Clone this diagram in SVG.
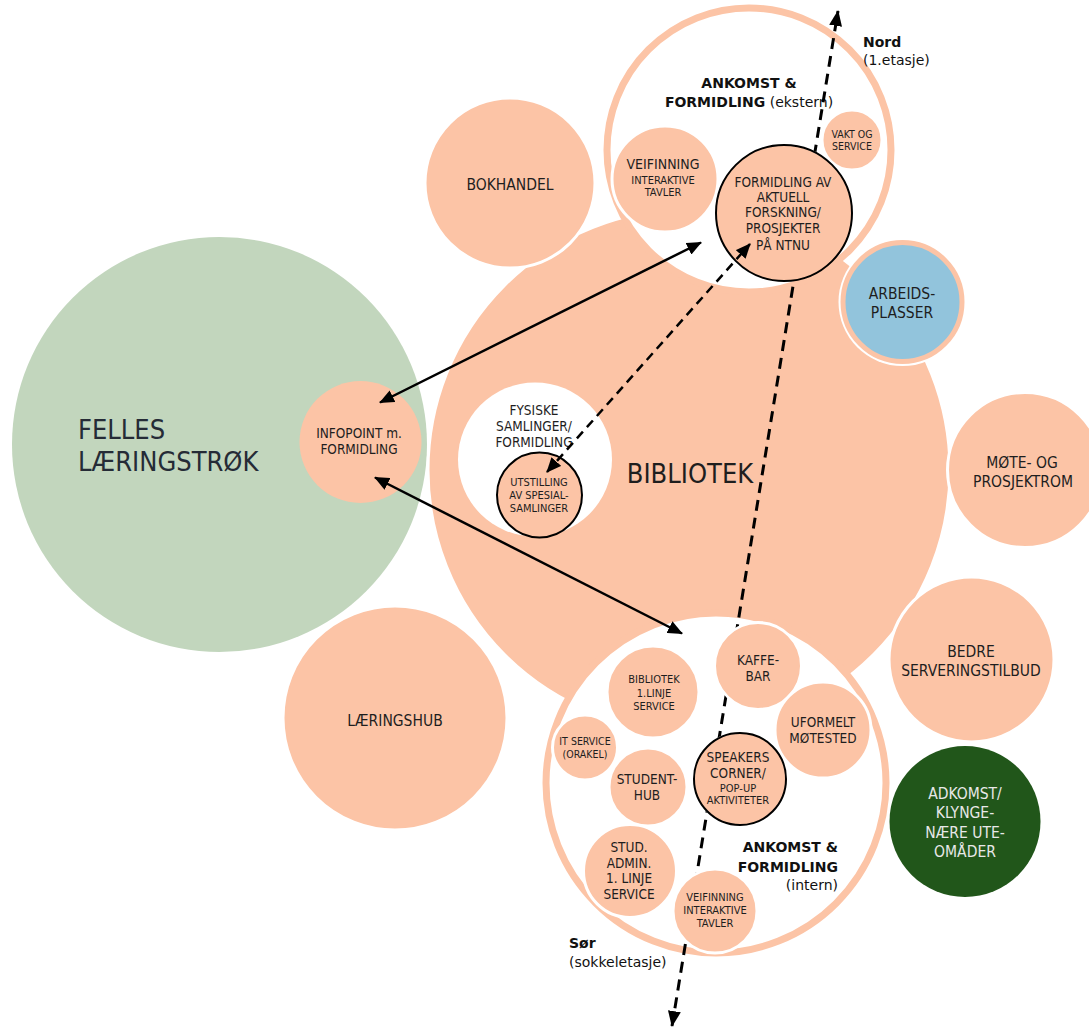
<svg xmlns="http://www.w3.org/2000/svg" width="1089" height="1028" viewBox="0 0 1089 1028">
<defs>
<style>
.pe{fill:#FCC4A6;stroke:#fff;stroke-width:3}
.pn{fill:#FCC4A6}
.pk{fill:#FCC4A6;stroke:#000;stroke-width:2}
.ring{fill:#fff;stroke:#FCC4A6;stroke-width:7}
text{font-family:"DejaVu Sans Condensed","DejaVu Sans",sans-serif;font-stretch:condensed;fill:#1e1e1e;text-anchor:middle}
.h{font-family:"DejaVu Sans",Verdana,sans-serif;font-stretch:normal;font-size:14px;fill:#111}
.b{font-weight:bold}
.st{text-anchor:start}
.en{text-anchor:end}
.f27{font-size:27px}
.f155{font-size:15.5px}
.f14{font-size:14px}
.f135{font-size:13.5px}
.f11{font-size:11px}
.f105{font-size:10.5px}
.sol{fill:none;stroke:#000;stroke-width:2.5;marker-start:url(#ah);marker-end:url(#ah)}
.dsh{fill:none;stroke:#000;stroke-width:2.5;stroke-dasharray:9 6;marker-start:url(#ah);marker-end:url(#ah)}
.nd{fill:none;stroke:#000;stroke-width:3;stroke-dasharray:11 7;marker-start:url(#ah2);marker-end:url(#ah2)}
</style>
<marker id="ah" viewBox="0 0 15 13" refX="14" refY="6.5" markerWidth="15" markerHeight="13" markerUnits="userSpaceOnUse" orient="auto-start-reverse">
<path d="M0,0 L15,6.5 L0,13 z" fill="#000"/>
</marker>
<marker id="ah2" viewBox="0 0 16 13" refX="15" refY="6.5" markerWidth="16" markerHeight="13" markerUnits="userSpaceOnUse" orient="auto-start-reverse">
<path d="M0,0 L16,6.5 L0,13 z" fill="#000"/>
</marker>
<mask id="hide" maskUnits="userSpaceOnUse" x="0" y="0" width="1089" height="1028">
<rect x="0" y="0" width="1089" height="1028" fill="#fff"/>
<circle cx="784" cy="213" r="69" fill="#000"/>
<circle cx="758" cy="666" r="44.5" fill="#000"/>
<circle cx="740" cy="779" r="47" fill="#000"/>
<circle cx="715" cy="911" r="43" fill="#000"/>
</mask>
</defs>

<g id="felles">
<circle cx="219.5" cy="444.5" r="207.5" fill="#C2D6BD"/>
<text class="f27 st" x="78" y="439" style="fill:#252b36">FELLES</text>
<text class="f27 st" x="78" y="471" style="fill:#252b36">LÆRINGSTRØK</text>
</g>

<g id="bibliotek">
<circle class="pe" cx="689" cy="470" r="261"/>
<text class="f27" x="690" y="483">BIBLIOTEK</text>
</g>

<g id="bokhandel">
<circle class="pe" cx="510" cy="183" r="85"/>
<text class="f155" x="510" y="190">BOKHANDEL</text>
</g>

<g id="mote">
<circle class="pe" cx="1025" cy="470" r="77.5"/>
<text class="f155" x="1022" y="468">MØTE- OG</text>
<text class="f155" x="1023" y="487">PROSJEKTROM</text>
</g>

<g id="bedre">
<circle class="pe" cx="971.5" cy="659.5" r="82.5"/>
<text class="f155" x="971" y="657">BEDRE</text>
<text class="f155" x="971" y="676">SERVERINGSTILBUD</text>
</g>

<g id="adkomst">
<circle cx="965" cy="821.5" r="75.5" fill="#21561A"/>
<text class="f155" x="965" y="799" style="fill:#e8e8e8">ADKOMST/</text>
<text class="f155" x="965" y="818" style="fill:#e8e8e8">KLYNGE-</text>
<text class="f155" x="965" y="838" style="fill:#e8e8e8">NÆRE UTE-</text>
<text class="f155" x="965" y="857" style="fill:#e8e8e8">OMÅDER</text>
</g>

<g id="laeringshub">
<circle class="pe" cx="395" cy="718" r="112"/>
<text class="f155" x="395" y="726">LÆRINGSHUB</text>
</g>

<g id="ankomst-ekstern">
<circle class="ring" cx="749" cy="150" r="142"/>
<text class="h b" x="749" y="88">ANKOMST &amp;</text>
<text class="h" x="749" y="107"><tspan class="b">FORMIDLING</tspan> (ekstern)</text>
</g>

<g id="arbeidsplasser">
<circle cx="902.5" cy="302" r="64" fill="#fff"/>
<circle cx="902.5" cy="302" r="59.5" fill="#92C4DC" stroke="#FCC4A6" stroke-width="5"/>
<text class="f155" x="902" y="299">ARBEIDS-</text>
<text class="f155" x="902" y="318">PLASSER</text>
</g>

<g id="ankomst-intern">
<circle class="ring" cx="716" cy="783" r="170"/>
<text class="h b en" x="838" y="852">ANKOMST &amp;</text>
<text class="h b en" x="838" y="872">FORMIDLING</text>
<text class="h en" x="838" y="890">(intern)</text>
</g>

<g id="fysiske">
<circle cx="535" cy="459.5" r="77" fill="#fff"/>
<text class="f135" x="534" y="415">FYSISKE</text>
<text class="f135" x="534" y="431">SAMLINGER/</text>
<text class="f135" x="534" y="447">FORMIDLING</text>
</g>

<g id="utstilling">
<circle class="pk" cx="539.5" cy="495" r="42.5"/>
<text class="f11" x="539" y="486">UTSTILLING</text>
<text class="f11" x="539" y="499">AV SPESIAL-</text>
<text class="f11" x="539" y="512">SAMLINGER</text>
</g>

<g id="infopoint">
<circle class="pn" cx="360.5" cy="442" r="61"/>
<text class="f135" x="359" y="438">INFOPOINT m.</text>
<text class="f135" x="359" y="454">FORMIDLING</text>
</g>

<g id="veifinning-ekstern">
<circle class="pe" cx="665" cy="179" r="53"/>
<text class="f14" x="663" y="169">VEIFINNING</text>
<text class="f11" x="663" y="184">INTERAKTIVE</text>
<text class="f11" x="663" y="196">TAVLER</text>
</g>

<g id="vakt">
<circle class="pe" cx="852" cy="140" r="30"/>
<text class="f105" x="852" y="138">VAKT OG</text>
<text class="f105" x="852" y="150">SERVICE</text>
</g>

<g id="formidling-forskning">
<circle class="pk" cx="784" cy="213" r="68"/>
<text class="f135" x="783" y="187">FORMIDLING AV</text>
<text class="f135" x="783" y="202">AKTUELL</text>
<text class="f135" x="783" y="217">FORSKNING/</text>
<text class="f135" x="783" y="233">PROSJEKTER</text>
<text class="f135" x="783" y="250">PÅ NTNU</text>
</g>

<g id="bibliotek-1linje">
<circle class="pe" cx="653" cy="692" r="46"/>
<text class="f11" x="654" y="683">BIBLIOTEK</text>
<text class="f11" x="654" y="697">1.LINJE</text>
<text class="f11" x="654" y="710">SERVICE</text>
</g>

<g id="kaffebar">
<circle class="pe" cx="758" cy="666" r="43.5"/>
<text class="f135" x="758" y="665">KAFFE-</text>
<text class="f135" x="758" y="681">BAR</text>
</g>

<g id="uformelt">
<circle class="pe" cx="823" cy="730" r="48"/>
<text class="f135" x="823" y="727">UFORMELT</text>
<text class="f135" x="823" y="743">MØTESTED</text>
</g>

<g id="itservice">
<circle class="pe" cx="585" cy="747.5" r="32.5"/>
<text class="f105" x="585" y="745">IT SERVICE</text>
<text class="f105" x="585" y="758">(ORAKEL)</text>
</g>

<g id="studenthub">
<circle class="pe" cx="648" cy="787" r="39"/>
<text class="f135" x="647" y="784">STUDENT-</text>
<text class="f135" x="647" y="800">HUB</text>
</g>

<g id="speakers">
<circle class="pk" cx="740" cy="779" r="46"/>
<text class="f135" x="738" y="762">SPEAKERS</text>
<text class="f135" x="738" y="778">CORNER/</text>
<text class="f11" x="738" y="792">POP-UP</text>
<text class="f11" x="738" y="804">AKTIVITETER</text>
</g>

<g id="studadmin">
<circle class="pe" cx="630" cy="871" r="46.5"/>
<text class="f135" x="629" y="852">STUD.</text>
<text class="f135" x="629" y="868">ADMIN.</text>
<text class="f135" x="629" y="883">1. LINJE</text>
<text class="f135" x="629" y="899">SERVICE</text>
</g>

<g id="veifinning-intern">
<circle class="pe" cx="715" cy="911" r="42"/>
<text class="f11" x="715" y="901">VEIFINNING</text>
<text class="f11" x="715" y="914">INTERAKTIVE</text>
<text class="f11" x="715" y="927">TAVLER</text>
</g>

<g id="retning">
<text class="h b st" x="863" y="47">Nord</text>
<text class="h st" x="863" y="65">(1.etasje)</text>
<text class="h b st" x="569" y="948">Sør</text>
<text class="h st" x="569" y="967">(sokkeletasje)</text>
</g>

<g id="connectors">
<line class="sol" x1="380" y1="402.5" x2="701" y2="242.5"/>
<line class="sol" x1="375" y1="477.5" x2="682" y2="633.5"/>
<line class="dsh" x1="547" y1="472" x2="750" y2="244"/>
<line class="nd" x1="672" y1="1026" x2="838" y2="11" mask="url(#hide)"/>
</g>
</svg>
